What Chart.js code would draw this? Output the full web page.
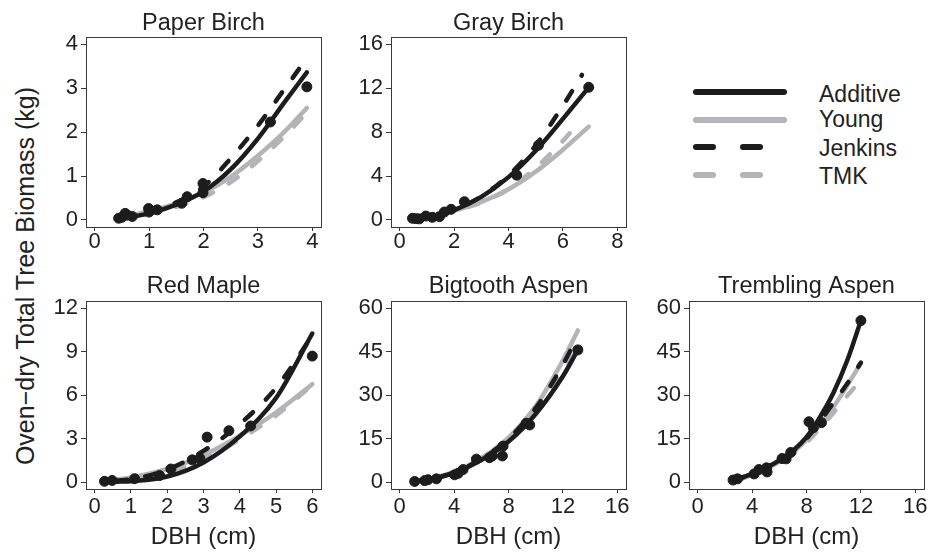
<!DOCTYPE html>
<html>
<head>
<meta charset="utf-8">
<script src="https://cdn.jsdelivr.net/npm/chart.js@4.4.1/dist/chart.umd.min.js"></script>
<style>
  body { margin: 0; background: #fff; width: 930px; height: 558px; position: relative; overflow: hidden;
         font-family: "Liberation Sans", Arial, sans-serif; color: #222; }
  canvas { position: absolute; }
  .ylab { position: absolute; left: -185px; top: 261px; width: 420px; line-height: 30px; font-size: 25px;
          text-align: center; transform: rotate(-90deg); white-space: nowrap; }
  .key { position: absolute; height: 6px; border-radius: 3px; }
  .keytxt { position: absolute; left: 819px; font-size: 23px; line-height: 28px; white-space: nowrap; }
</style>
</head>
<body>
<canvas id="pb" width="288" height="248" style="left:41px;top:9px"></canvas>
<canvas id="gb" width="288" height="248" style="left:346px;top:9px"></canvas>
<canvas id="rm" width="288" height="280" style="left:41px;top:272px"></canvas>
<canvas id="ba" width="288" height="280" style="left:346px;top:272px"></canvas>
<canvas id="ta" width="286" height="280" style="left:644px;top:272px"></canvas>

<div class="ylab">Oven−dry Total Tree Biomass (kg)</div>

<div class="key" style="left:693px;top:89px;width:94px;background:#1c1c1c"></div>
<div class="key" style="left:693px;top:117px;width:94px;background:#b4b4b8"></div>
<div class="key" style="left:693px;top:144px;width:23px;background:#1c1c1c"></div>
<div class="key" style="left:740px;top:144px;width:23px;background:#1c1c1c"></div>
<div class="key" style="left:693px;top:172px;width:23px;background:#b4b4b8"></div>
<div class="key" style="left:740px;top:172px;width:23px;background:#b4b4b8"></div>
<div class="keytxt" style="top:80px">Additive</div>
<div class="keytxt" style="top:105px">Young</div>
<div class="keytxt" style="top:134px">Jenkins</div>
<div class="keytxt" style="top:162px">TMK</div>

<script>
// Paper Birch
const pbObs = [[0.44,0.04],[0.5,0.06],[0.56,0.15],[0.6,0.11],[0.69,0.08],[0.99,0.26],[1.0,0.18],[1.15,0.23],
               [1.6,0.38],[1.7,0.53],[1.99,0.83],[1.99,0.62],[3.23,2.23],[3.9,3.03]];
const pbAdditive = [[0.45,0.02],[1,0.15],[1.5,0.35],[2,0.65],[2.5,1.15],[3,1.85],[3.5,2.7],[3.9,3.36]];
const pbYoung = [[0.45,0.05],[1,0.2],[1.5,0.38],[2,0.62],[2.5,0.98],[3,1.46],[3.5,2.02],[3.9,2.55]];
const pbJenkins = [[0.45,0.03],[1,0.17],[1.5,0.4],[2,0.76],[2.5,1.4],[3,2.15],[3.5,3.0],[3.9,3.68]];
const pbTmk = [[0.45,0.03],[1,0.14],[1.5,0.3],[2,0.52],[2.5,0.86],[3,1.34],[3.5,1.92],[3.9,2.45]];
const pbXTicks = [0, 1, 2, 3, 4];
const pbYTicks = [0, 1, 2, 3, 4];

// Gray Birch
const gbObs = [[0.47,0.15],[0.6,0.12],[0.72,0.1],[0.96,0.36],[1.2,0.24],[1.46,0.3],[1.64,0.72],[1.89,0.97],
               [2.38,1.66],[4.3,4.08],[5.1,6.8],[6.95,12.08]];
const gbAdditive = [[0.45,0.08],[1,0.25],[2,0.9],[3,2.1],[4,3.9],[5,6.3],[6,9.2],[6.95,12.07]];
const gbYoung = [[0.45,0.1],[1,0.3],[2,0.85],[3,1.65],[4,2.8],[5,4.4],[6,6.4],[6.95,8.5]];
const gbJenkins = [[0.45,0.08],[1,0.25],[2,0.92],[3,2.15],[4,4.05],[5,6.8],[6,10.4],[6.7,13.2]];
const gbTmk = [[0.45,0.08],[1,0.27],[2,0.8],[3,1.6],[4,2.8],[5,4.75],[6,7.2],[6.5,8.6]];
const gbXTicks = [0, 2, 4, 6, 8];
const gbYTicks = [0, 4, 8, 12, 16];

// Red Maple
const rmObs = [[0.27,0.05],[0.48,0.11],[1.1,0.23],[1.79,0.45],[2.1,0.9],[2.69,1.53],[2.9,1.64],[3.1,3.1],
               [3.7,3.54],[4.3,3.87],[6.0,8.69]];
const rmAdditive = [[0.6,0.02],[1,0.06],[2,0.38],[3,1.35],[4,3.15],[5,5.8],[6,10.25]];
const rmYoung = [[0.6,0.18],[1,0.3],[2,0.9],[3,1.85],[4,3.2],[5,4.8],[6,6.75]];
const rmJenkins = [[0.6,0.1],[1,0.2],[2,0.85],[3,2.15],[4,4.0],[5,6.5],[6,10.1]];
const rmTmk = [[0.6,0.1],[1,0.25],[2,0.75],[3,1.55],[4,2.95],[5,4.6],[6,6.7]];
const rmXTicks = [0, 1, 2, 3, 4, 5, 6];
const rmYTicks = [0, 3, 6, 9, 12];

// Bigtooth Aspen
const baObs = [[1.1,0.2],[1.84,0.5],[2.08,0.8],[2.7,1.1],[4.04,2.5],[4.3,3.0],[4.66,4.3],[5.64,7.9],[6.6,8.4],
               [6.8,9.0],[7.55,9.0],[7.6,12.4],[9.3,20.3],[9.56,19.7],[13.1,45.6]];
const baAdditive = [[1,0.2],[2,0.8],[4,3.2],[6,7.6],[8,14.0],[10,23.5],[12,36.5],[13.1,45.6]];
const baYoung = [[1,0.3],[2,1.0],[4,3.5],[6,8.2],[8,15.3],[10,26.2],[12,42],[13.1,52.3]];
const baJenkins = [[1,0.2],[2,0.8],[4,3.3],[6,8.0],[8,15.0],[10,25.5],[12,40.5],[13,49.5]];
const baTmk = [[1,0.25],[2,0.9],[4,3.3],[6,7.8],[8,14.2],[10,24],[12,37.5],[13.1,46.5]];
const baXTicks = [0, 4, 8, 12, 16];
const baYTicks = [0, 15, 30, 45, 60];

// Trembling Aspen
const taObs = [[2.6,0.7],[2.93,1.1],[4.15,2.8],[4.5,4.3],[5.06,4.9],[5.1,3.5],[6.2,8.1],[6.5,8.0],[6.84,10.2],
               [8.18,20.8],[8.5,18.75],[9.1,20.5],[12.0,55.7]];
const taAdditive = [[2.6,0.8],[3,1.2],[4,2.8],[5,4.9],[6,7.5],[7,10.8],[8,15.5],[9,22.5],[10,31],[11,42],[12,55.7]];
const taYoung = [[2.6,0.7],[3,1.0],[4,2.5],[5,4.5],[6,7.0],[7,10.2],[8,14.5],[9,19.8],[10,26],[11,33.3],[12,41]];
const taJenkins = [[2.6,0.8],[3,1.2],[4,2.8],[5,4.8],[6,7.3],[7,10.5],[8,15],[9,21],[10,27.5],[11,34],[12,41.2]];
const taTmk = [[2.6,0.6],[3,0.9],[4,2.3],[5,4.2],[6,6.6],[7,9.6],[8,13.6],[9,18.6],[10,24],[11,29.8],[11.6,33]];
const taXTicks = [0, 4, 8, 12, 16];
const taYTicks = [0, 15, 30, 45, 60];

const BLACK = '#1c1c1c';
const GRAY = '#b4b4b8';
const AXIS = '#3a3a3a';
const FONT = "'Liberation Sans', Arial, sans-serif";

Chart.defaults.font.family = FONT;
Chart.defaults.color = '#222';

const toXY = arr => arr.map(p => ({ x: p[0], y: p[1] }));

function curve(data, color, dashed) {
  return {
    type: 'line', data: toXY(data), borderColor: color, borderWidth: 4.5,
    borderDash: dashed ? [11, 18] : [], borderCapStyle: 'round', borderJoinStyle: 'round',
    pointRadius: 0, showLine: true, fill: false, cubicInterpolationMode: 'monotone'
  };
}

// draws the full box around the plot region
const boxPlugin = {
  id: 'box',
  afterDraw(chart) {
    const a = chart.chartArea, ctx = chart.ctx;
    ctx.save();
    ctx.strokeStyle = AXIS;
    ctx.lineWidth = 1;
    ctx.strokeRect(Math.round(a.left) + 0.5, Math.round(a.top) + 0.5,
                   Math.round(a.right - a.left), Math.round(a.bottom - a.top));
    ctx.restore();
  }
};

function makePanel(id, title, obs, additive, young, jenkins, tmk, xTicks, yTicks, bottomRow) {
  const xPad = (xTicks[xTicks.length - 1] - xTicks[0]) * 0.04;
  const yPad = (yTicks[yTicks.length - 1] - yTicks[0]) * 0.04;
  new Chart(document.getElementById(id), {
    type: 'scatter',
    data: {
      datasets: [
        { data: toXY(obs), backgroundColor: BLACK, borderColor: BLACK, pointRadius: 5, pointHoverRadius: 5 },
        curve(additive, BLACK, false),
        curve(jenkins, BLACK, true),
        curve(tmk, GRAY, true),
        curve(young, GRAY, false)
      ]
    },
    options: {
      responsive: false,
      animation: false,
      layout: { padding: { left: 0, right: id === 'ta' ? 5 : 8, top: 0, bottom: 0 } },
      plugins: {
        legend: { display: false },
        tooltip: { enabled: false },
        title: {
          display: true, text: title, fullSize: false,
          font: { size: 23.5, weight: 'normal' }, color: '#222',
          padding: { top: 0, bottom: bottomRow ? 1 : 0 }
        }
      },
      scales: {
        x: {
          type: 'linear',
          min: xTicks[0] - xPad, max: xTicks[xTicks.length - 1] + xPad,
          afterBuildTicks: s => { s.ticks = xTicks.map(v => ({ value: v })); },
          afterFit: s => { s.height = bottomRow ? 63 : 30; },
          grid: { drawOnChartArea: false, tickLength: 4, color: AXIS },
          border: { display: false },
          ticks: { font: { size: 22 }, color: '#222', padding: bottomRow ? 1 : -2, maxRotation: 0 },
          title: {
            display: bottomRow, text: 'DBH (cm)', font: { size: 24 }, color: '#222',
            padding: { top: 0, bottom: 0 }
          }
        },
        y: {
          type: 'linear',
          min: yTicks[0] - yPad, max: yTicks[yTicks.length - 1] + yPad,
          afterBuildTicks: s => { s.ticks = yTicks.map(v => ({ value: v })); },
          afterFit: s => { s.width = 45; },
          grid: { drawOnChartArea: false, tickLength: 5, color: AXIS },
          border: { display: false },
          ticks: { font: { size: 22 }, color: '#222', padding: 3 }
        }
      }
    },
    plugins: [boxPlugin]
  });
}

makePanel('pb', 'Paper Birch', pbObs, pbAdditive, pbYoung, pbJenkins, pbTmk, pbXTicks, pbYTicks, false);
makePanel('gb', 'Gray Birch', gbObs, gbAdditive, gbYoung, gbJenkins, gbTmk, gbXTicks, gbYTicks, false);
makePanel('rm', 'Red Maple', rmObs, rmAdditive, rmYoung, rmJenkins, rmTmk, rmXTicks, rmYTicks, true);
makePanel('ba', 'Bigtooth Aspen', baObs, baAdditive, baYoung, baJenkins, baTmk, baXTicks, baYTicks, true);
makePanel('ta', 'Trembling Aspen', taObs, taAdditive, taYoung, taJenkins, taTmk, taXTicks, taYTicks, true);
</script>
</body>
</html>
